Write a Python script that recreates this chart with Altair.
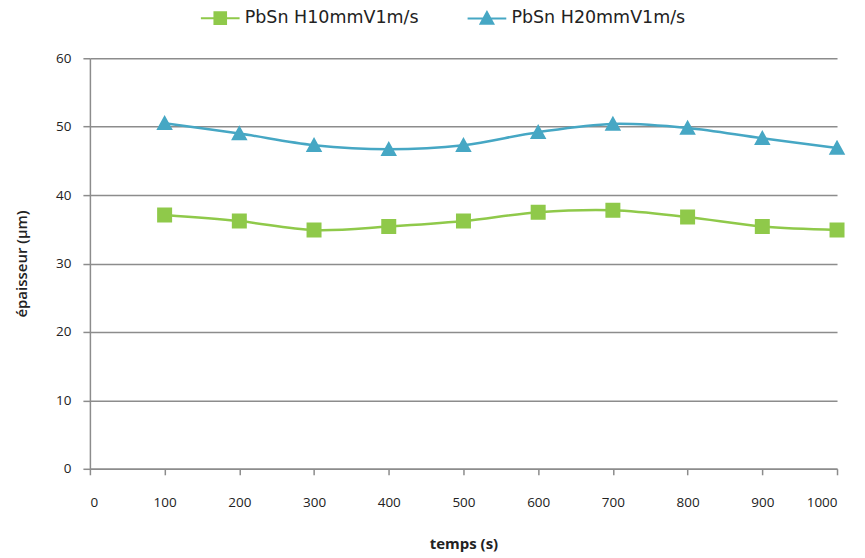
import altair as alt
import pandas as pd

temps = [100, 200, 300, 400, 500, 600, 700, 800, 900, 1000]
h10 = [37.1, 36.2, 34.9, 35.4, 36.2, 37.5, 37.8, 36.8, 35.4, 34.9]
h20 = [50.5, 49.0, 47.3, 46.7, 47.3, 49.2, 50.4, 49.8, 48.3, 46.9]
series = ["PbSn H10mmV1m/s", "PbSn H20mmV1m/s"]
colors = ["#8fc94a", "#46a7c4"]
x_ticks = [0, 100, 200, 300, 400, 500, 600, 700, 800, 900, 1000]
y_ticks = [0, 10, 20, 30, 40, 50, 60]

rows = []
for t, a, b in zip(temps, h10, h20):
    rows.append({"temps": t, "val": a, "serie": series[0]})
    rows.append({"temps": t, "val": b, "serie": series[1]})
df = pd.DataFrame(rows)

# custom symbols: a horizontal stroke (visible in legend only) plus a filled marker
sq_path = "M-1,0H1M-0.3,-0.3H0.3V0.3H-0.3Z"
tri_path = "M-1,0H1M-0.33,0.27L0,-0.33L0.33,0.27Z"

font = "Open Sans"

legend = alt.Legend(title=None, orient="none", direction="horizontal",
                    legendX=110, legendY=-61, symbolSize=1500,
                    symbolStrokeWidth=2, columnPadding=44, labelLimit=400,
                    labelFontSize=17.5, labelFont="DejaVu Sans",
                    labelColor="#222222", symbolOpacity=1)

color_scale = alt.Scale(domain=series, range=colors)

x = alt.X("temps:Q", scale=alt.Scale(domain=[0, 1000], nice=False),
          axis=alt.Axis(values=x_ticks, format="d", title="temps (s)", grid=False,
                        labelPadding=21, titlePadding=27, tickSize=6,
                        titleFontWeight="bold", titleFontSize=15))
y = alt.Y("val:Q", scale=alt.Scale(domain=[0, 60], nice=False),
          axis=alt.Axis(values=y_ticks, title="épaisseur (µm)", grid=True,
                        labelPadding=12, titlePadding=26, tickSize=7,
                        titleFontWeight=600, titleFontSize=15))

lines = alt.Chart(df).mark_line(strokeWidth=2.5, interpolate="catmull-rom").encode(
    x=x, y=y,
    color=alt.Color("serie:N", scale=color_scale, legend=legend),
)

points = alt.Chart(df).mark_point(filled=True, opacity=1, size=2500, strokeWidth=0).encode(
    x="temps:Q", y="val:Q",
    color=alt.Color("serie:N", scale=color_scale, legend=legend),
    shape=alt.Shape("serie:N", scale=alt.Scale(domain=series, range=[sq_path, tri_path]),
                    legend=legend),
)

chart = alt.layer(lines, points).properties(
    width=748, height=411,
    autosize=alt.AutoSizeParams(type="none"),
    padding={"left": 82, "top": 50, "right": 20, "bottom": 92},
).configure_view(stroke=None).configure_axis(
    domainColor="#8c8c8c", domainWidth=1.5, tickColor="#8c8c8c", tickWidth=1.5,
    gridColor="#8c8c8c", gridWidth=1.5,
    labelFont=font, labelFontSize=13.5, labelColor="#222222", labelFontWeight="normal",
    titleFont=font, titleColor="#222222",
)

chart.save("out.html", embed_options={"renderer": "svg", "actions": False})
